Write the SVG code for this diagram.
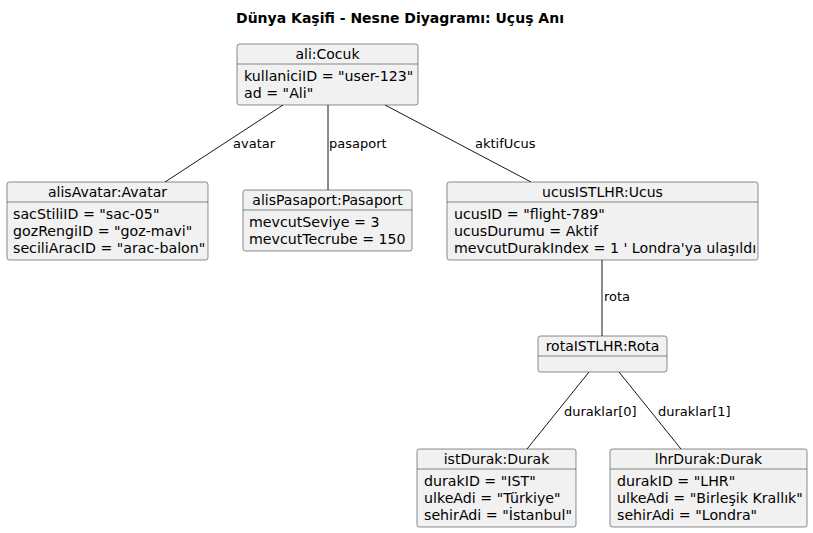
<svg xmlns="http://www.w3.org/2000/svg" width="813" height="533" viewBox="0 0 813 533">
  <style>
    .box { fill: #F1F1F1; stroke: #181818; stroke-width: 0.5; }
    .sep { stroke: #181818; stroke-width: 0.5; }
    .name { font-family: "DejaVu Sans", sans-serif; font-size: 14px; fill: #000; text-anchor: middle; }
    .attr { font-family: "DejaVu Sans", sans-serif; font-size: 14.2px; fill: #000; }
    .lbl { font-family: "DejaVu Sans", sans-serif; font-size: 13px; fill: #000; }
    .link { stroke: #181818; stroke-width: 1; fill: none; }
    .title { font-family: "DejaVu Sans", sans-serif; font-size: 14px; font-weight: bold; fill: #000; text-anchor: middle; }
  </style>
  <rect width="813" height="533" fill="#FFFFFF"/>
  <text class="title" x="400" y="23">Dünya Kaşifi - Nesne Diyagramı: Uçuş Anı</text>

  <g id="connectors">
    <line class="link" x1="283" y1="105" x2="165" y2="182"/>
    <text class="lbl" x="233" y="148">avatar</text>
    <line class="link" x1="328" y1="105" x2="328" y2="190"/>
    <text class="lbl" x="329" y="148">pasaport</text>
    <line class="link" x1="385" y1="105" x2="531" y2="182"/>
    <text class="lbl" x="475" y="148">aktifUcus</text>
    <line class="link" x1="602" y1="260" x2="602" y2="336"/>
    <text class="lbl" x="604" y="301">rota</text>
    <line class="link" x1="589" y1="372" x2="527" y2="449"/>
    <text class="lbl" x="564" y="416">duraklar[0]</text>
    <line class="link" x1="619" y1="372" x2="681" y2="449"/>
    <text class="lbl" x="658" y="416">duraklar[1]</text>
  </g>

  <g id="ali">
    <rect class="box" x="237" y="44" width="181" height="61" rx="2.5"/>
    <line class="sep" x1="237" y1="64" x2="418" y2="64"/>
    <text class="name" x="327.5" y="59">ali:Cocuk</text>
    <text class="attr" x="244" y="81">kullaniciID = "user-123"</text>
    <text class="attr" x="244" y="98">ad = "Ali"</text>
  </g>

  <g id="alisAvatar">
    <rect class="box" x="7" y="182" width="201" height="78" rx="2.5"/>
    <line class="sep" x1="7" y1="202" x2="208" y2="202"/>
    <text class="name" x="107.5" y="197">alisAvatar:Avatar</text>
    <text class="attr" x="13" y="219">sacStiliID = "sac-05"</text>
    <text class="attr" x="13" y="236">gozRengiID = "goz-mavi"</text>
    <text class="attr" x="13" y="253">seciliAracID = "arac-balon"</text>
  </g>

  <g id="alisPasaport">
    <rect class="box" x="243" y="190" width="169" height="61" rx="2.5"/>
    <line class="sep" x1="243" y1="210" x2="412" y2="210"/>
    <text class="name" x="327.5" y="205">alisPasaport:Pasaport</text>
    <text class="attr" x="249" y="227">mevcutSeviye = 3</text>
    <text class="attr" x="249" y="244">mevcutTecrube = 150</text>
  </g>

  <g id="ucusISTLHR">
    <rect class="box" x="447" y="182" width="311" height="78" rx="2.5"/>
    <line class="sep" x1="447" y1="202" x2="758" y2="202"/>
    <text class="name" x="602.5" y="197">ucusISTLHR:Ucus</text>
    <text class="attr" x="454" y="219">ucusID = "flight-789"</text>
    <text class="attr" x="454" y="236">ucusDurumu = Aktif</text>
    <text class="attr" x="454" y="253">mevcutDurakIndex = 1 ' Londra'ya ulaşıldı</text>
  </g>

  <g id="rotaISTLHR">
    <rect class="box" x="538" y="336" width="129" height="36" rx="2.5"/>
    <line class="sep" x1="538" y1="356" x2="667" y2="356"/>
    <text class="name" x="602.5" y="351">rotaISTLHR:Rota</text>
  </g>

  <g id="istDurak">
    <rect class="box" x="417" y="449" width="159" height="78" rx="2.5"/>
    <line class="sep" x1="417" y1="469" x2="576" y2="469"/>
    <text class="name" x="496.5" y="464">istDurak:Durak</text>
    <text class="attr" x="424" y="486">durakID = "IST"</text>
    <text class="attr" x="424" y="503">ulkeAdi = "Türkiye"</text>
    <text class="attr" x="424" y="520">sehirAdi = "İstanbul"</text>
  </g>

  <g id="lhrDurak">
    <rect class="box" x="610" y="449" width="197" height="78" rx="2.5"/>
    <line class="sep" x1="610" y1="469" x2="807" y2="469"/>
    <text class="name" x="708.5" y="464">lhrDurak:Durak</text>
    <text class="attr" x="617" y="486">durakID = "LHR"</text>
    <text class="attr" x="617" y="503">ulkeAdi = "Birleşik Krallık"</text>
    <text class="attr" x="617" y="520">sehirAdi = "Londra"</text>
  </g>
</svg>
